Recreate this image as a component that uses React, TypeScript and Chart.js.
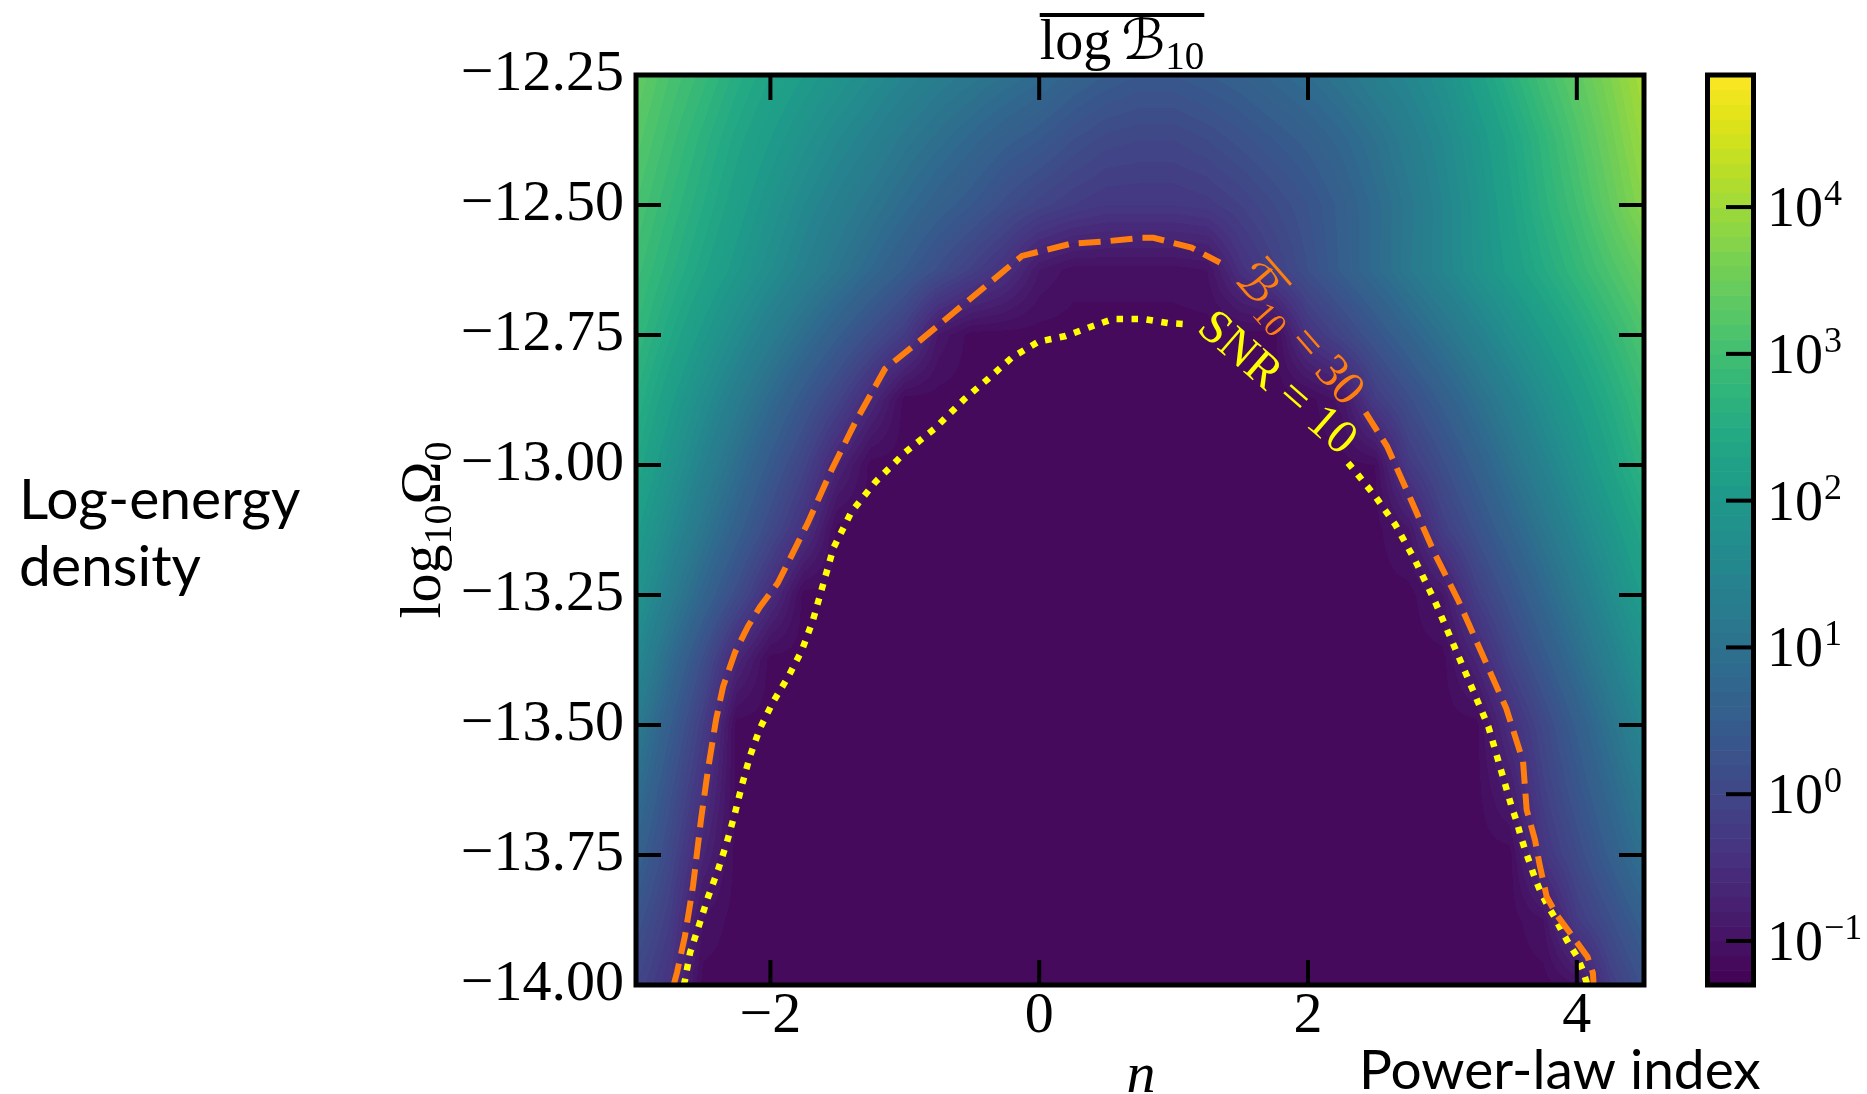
import React, { useEffect, useRef } from 'react';
import { Chart, registerables } from 'chart.js';

Chart.register(...registerables);

// ---------------- data ----------------
// grid of the colour field: power-law index n (columns) and log10 Omega_0 (rows)
const N_GRID = [-3, -2.75, -2.5, -2.25, -2, -1.75, -1.5, -1.25, -1, -0.75, -0.5, -0.25, 0, 0.25, 0.5, 0.75, 1, 1.25, 1.5, 1.75, 2, 2.25, 2.5, 2.75, 3, 3.25, 3.5, 3.75, 4, 4.25, 4.5];
const OMEGA_GRID = [-12.25, -12.375, -12.5, -12.625, -12.75, -12.875, -13, -13.125, -13.25, -13.375, -13.5, -13.625, -13.75, -13.875, -14];
const I = -1.15; // value read inside the detection region
// log10 of mean Bayes factor (row = OMEGA_GRID, column = N_GRID)
const LOG10_B = [
  [3.40, 3.10, 2.85, 2.55, 2.30, 2.10, 1.90, 1.70, 1.50, 1.30, 1.15, 1.00, 0.85, 0.65, 0.50, 0.40, 0.40, 0.50, 0.60, 0.75, 0.90, 1.10, 1.35, 1.55, 1.80, 2.20, 2.60, 3.00, 3.35, 3.70, 4.10],
  [3.25, 2.95, 2.65, 2.35, 2.10, 1.85, 1.60, 1.40, 1.15, 0.95, 0.75, 0.55, 0.40, 0.20, 0.05, 0.00, 0.00, 0.10, 0.25, 0.40, 0.55, 0.75, 1.00, 1.30, 1.60, 1.95, 2.35, 2.75, 3.15, 3.55, 3.95],
  [3.10, 2.80, 2.50, 2.20, 1.90, 1.60, 1.35, 1.10, 0.85, 0.60, 0.40, 0.15, -0.05, -0.20, -0.30, -0.30, -0.30, -0.25, -0.10, 0.10, 0.30, 0.55, 0.85, 1.15, 1.50, 1.85, 2.25, 2.65, 3.00, 3.40, 3.80],
  [2.95, 2.64, 2.33, 2.02, 1.71, 1.40, 1.10, 0.79, 0.48, 0.17, -0.14, -0.45, -0.90, -1.05, -1.05, -1.05, -1.05, -1.00, -0.45, -0.13, 0.20, 0.53, 0.85, 1.18, 1.50, 1.83, 2.15, 2.48, 2.80, 3.13, 3.45],
  [2.80, 2.42, 2.04, 1.66, 1.29, 0.91, 0.53, 0.15, -0.22, -0.92, I, I, I, I, I, I, I, I, I, I, -0.38, -0.03, 0.33, 0.68, 1.03, 1.38, 1.74, 2.09, 2.44, 2.79, 3.15],
  [2.60, 2.16, 1.71, 1.27, 0.83, 0.38, -0.06, -0.59, I, I, I, I, I, I, I, I, I, I, I, I, I, -0.96, -0.23, 0.16, 0.55, 0.94, 1.33, 1.73, 2.12, 2.51, 2.90],
  [2.40, 1.91, 1.42, 0.93, 0.43, -0.06, -0.68, I, I, I, I, I, I, I, I, I, I, I, I, I, I, I, -1.10, -0.26, 0.16, 0.58, 1.01, 1.43, 1.85, 2.28, 2.70],
  [2.15, 1.63, 1.11, 0.59, 0.07, -0.45, I, I, I, I, I, I, I, I, I, I, I, I, I, I, I, I, I, -0.92, -0.19, 0.24, 0.67, 1.10, 1.54, 1.97, 2.40],
  [1.90, 1.31, 0.71, 0.12, -0.50, I, I, I, I, I, I, I, I, I, I, I, I, I, I, I, I, I, I, I, -0.92, -0.17, 0.29, 0.76, 1.22, 1.69, 2.15],
  [1.60, 0.88, 0.16, -0.64, I, I, I, I, I, I, I, I, I, I, I, I, I, I, I, I, I, I, I, I, I, -0.68, -0.07, 0.41, 0.89, 1.37, 1.85],
  [1.25, 0.53, -0.19, I, I, I, I, I, I, I, I, I, I, I, I, I, I, I, I, I, I, I, I, I, I, I, -0.50, 0.03, 0.54, 1.04, 1.55],
  [0.95, 0.26, -0.42, I, I, I, I, I, I, I, I, I, I, I, I, I, I, I, I, I, I, I, I, I, I, I, -0.82, -0.14, 0.33, 0.79, 1.25],
  [0.65, 0.04, -0.68, I, I, I, I, I, I, I, I, I, I, I, I, I, I, I, I, I, I, I, I, I, I, I, I, -0.36, 0.09, 0.55, 1.00],
  [0.30, -0.19, -1.01, I, I, I, I, I, I, I, I, I, I, I, I, I, I, I, I, I, I, I, I, I, I, I, I, -1.01, -0.23, 0.18, 0.60],
  [0.00, -0.40, I, I, I, I, I, I, I, I, I, I, I, I, I, I, I, I, I, I, I, I, I, I, I, I, I, I, -1.01, -0.21, 0.25],
];

// contour  B10 = 30 (orange dashed), split where the inline label sits
const B30_BEFORE_LABEL = [
  [-2.72, -14.0], [-2.694, -13.975], [-2.636, -13.906], [-2.576, -13.81], [-2.516, -13.681], [-2.464, -13.585],
  [-2.404, -13.489], [-2.352, -13.426], [-2.263, -13.36], [-2.166, -13.31], [-2.078, -13.273], [-1.945, -13.227],
  [-1.856, -13.181], [-1.723, -13.112], [-1.546, -13.01], [-1.369, -12.918], [-1.147, -12.815], [-0.926, -12.769],
  [-0.66, -12.712], [-0.394, -12.655], [-0.128, -12.598], [0.227, -12.575], [0.493, -12.57], [0.759, -12.563],
  [0.85, -12.563], [1.133, -12.582], [1.345, -12.611],
];
const B30_AFTER_LABEL = [
  [2.428, -12.899], [2.588, -12.964], [2.766, -13.067], [2.944, -13.171], [3.121, -13.262], [3.298, -13.365],
  [3.475, -13.468], [3.6, -13.57], [3.627, -13.663], [3.689, -13.721], [3.726, -13.772], [3.776, -13.83],
  [3.85, -13.865], [3.987, -13.913], [4.08, -13.946], [4.12, -13.977], [4.125, -14.0],
];
// contour SNR = 10 (yellow dotted)
const SNR_BEFORE_LABEL = [
  [-2.645, -14.0], [-2.635, -13.99], [-2.598, -13.938], [-2.531, -13.885], [-2.464, -13.831], [-2.39, -13.779],
  [-2.323, -13.725], [-2.263, -13.669], [-2.211, -13.615], [-2.152, -13.56], [-2.077, -13.506], [-1.981, -13.456],
  [-1.869, -13.408], [-1.765, -13.356], [-1.683, -13.298], [-1.53, -13.159], [-1.397, -13.09], [-1.22, -13.033],
  [-0.999, -12.976], [-0.778, -12.93], [-0.556, -12.873], [-0.379, -12.834], [-0.202, -12.793], [-0.007, -12.763],
  [0.197, -12.752], [0.374, -12.735], [0.551, -12.719], [0.773, -12.719], [0.958, -12.727], [1.07, -12.729],
];
const SNR_AFTER_LABEL = [
  [2.298, -12.996], [2.372, -13.019], [2.5, -13.06], [2.65, -13.115], [2.8, -13.185], [2.944, -13.262],
  [3.077, -13.342], [3.209, -13.422], [3.342, -13.503], [3.515, -13.657], [3.553, -13.686], [3.582, -13.713],
  [3.615, -13.74], [3.652, -13.767], [3.689, -13.795], [3.731, -13.821], [3.781, -13.846], [3.838, -13.871],
  [3.888, -13.896], [3.942, -13.921], [3.999, -13.944], [4.044, -13.971], [4.074, -13.996], [4.078, -14.0],
];

const X_TICKS = [-2, 0, 2, 4];
const Y_TICKS = [-12.25, -12.5, -12.75, -13, -13.25, -13.5, -13.75, -14];
const CB_TICK_EXPONENTS = [-1, 0, 1, 2, 3, 4];
const CB_MIN_EXP = -1.3;
const CB_MAX_EXP = 4.9;
const LEVEL_STEP = 0.1;

// ---------------- style ----------------
const SERIF = "'Liberation Serif', 'DejaVu Serif', 'DejaVu Sans', serif";
const SANS = "Lato, 'Open Sans', sans-serif";
const ORANGE = '#ff7f0e';
const YELLOW = '#ffff00';
const VIRIDIS = ['#440154', '#471365', '#482475', '#463480', '#414487', '#3b528b', '#355f8d', '#2f6c8e', '#2a788e', '#25848e', '#21918c', '#1e9c89', '#22a884', '#2fb47c', '#44bf70', '#5ec962', '#7ad151', '#9bd93c', '#bddf26', '#dfe318', '#fde725'];

function hexToRgb(h: string) {
  return [parseInt(h.slice(1, 3), 16), parseInt(h.slice(3, 5), 16), parseInt(h.slice(5, 7), 16)];
}
const VIR_RGB = VIRIDIS.map(hexToRgb);
function viridis(t: number) {
  const tt = Math.max(0, Math.min(1, t)) * (VIR_RGB.length - 1);
  const i = Math.min(Math.floor(tt), VIR_RGB.length - 2);
  const f = tt - i;
  const a = VIR_RGB[i], b = VIR_RGB[i + 1];
  return [a[0] + (b[0] - a[0]) * f, a[1] + (b[1] - a[1]) * f, a[2] + (b[2] - a[2]) * f];
}
const N_LEVELS = Math.round((CB_MAX_EXP - CB_MIN_EXP) / LEVEL_STEP);
const LEVEL_COLORS = Array.from({ length: N_LEVELS }, (_, k) => viridis((k + 0.5) / N_LEVELS));

function gridPos(grid: number[], v: number) {
  for (let i = 0; i < grid.length - 1; i++) {
    const a = grid[i], b = grid[i + 1];
    const f = (v - a) / (b - a);
    if (f <= 1) return i + Math.max(0, f);
  }
  return grid.length - 1;
}

const minus = (v: number) => (v < 0 ? '\u2212' : '');

type Piece = { text: string; font: string; dy?: number; dx?: number };
function drawPieces(ctx: CanvasRenderingContext2D, pieces: Piece[], x: number, y: number, align: 'left' | 'center') {
  let total = 0;
  const widths = pieces.map((p) => {
    ctx.font = p.font;
    const w = ctx.measureText(p.text).width + (p.dx || 0);
    total += w;
    return w;
  });
  let cx = align === 'center' ? x - total / 2 : x;
  const start = cx;
  ctx.textAlign = 'left';
  ctx.textBaseline = 'alphabetic';
  const spans: [number, number][] = [];
  pieces.forEach((p, i) => {
    ctx.font = p.font;
    const px = cx + (p.dx || 0);
    ctx.fillText(p.text, px, y + (p.dy || 0));
    spans.push([px, cx + widths[i]]);
    cx += widths[i];
  });
  return { start, end: cx, spans };
}

function line(ctx: CanvasRenderingContext2D, x1: number, y1: number, x2: number, y2: number) {
  ctx.beginPath();
  ctx.moveTo(x1, y1);
  ctx.lineTo(x2, y2);
  ctx.stroke();
}

const heatmapPlugin = {
  id: 'heatmap',
  beforeDatasetsDraw(chart: any) {
    const { ctx, chartArea: a, scales } = chart;
    const xs = scales.x, ys = scales.y;
    const left = Math.round(a.left), top = Math.round(a.top);
    const w = Math.round(a.right) - left, h = Math.round(a.bottom) - top;
    const img = ctx.createImageData(w, h);
    const colPos = new Float64Array(w);
    for (let i = 0; i < w; i++) colPos[i] = gridPos(N_GRID, xs.getValueForPixel(left + i + 0.5));
    const negRows = OMEGA_GRID.map((v) => -v);
    const rowPos = new Float64Array(h);
    for (let j = 0; j < h; j++) rowPos[j] = gridPos(negRows, -ys.getValueForPixel(top + j + 0.5));
    const R = OMEGA_GRID.length, C = N_GRID.length;
    const d = img.data;
    for (let j = 0; j < h; j++) {
      const r0 = Math.min(Math.floor(rowPos[j]), R - 2);
      const ty = rowPos[j] - r0;
      const g0 = LOG10_B[r0], g1 = LOG10_B[r0 + 1];
      for (let i = 0; i < w; i++) {
        const c0 = Math.min(Math.floor(colPos[i]), C - 2);
        const tx = colPos[i] - c0;
        const v = (1 - ty) * ((1 - tx) * g0[c0] + tx * g0[c0 + 1]) + ty * ((1 - tx) * g1[c0] + tx * g1[c0 + 1]);
        let lvl = Math.floor((v - CB_MIN_EXP) / LEVEL_STEP);
        lvl = Math.max(0, Math.min(N_LEVELS - 1, lvl));
        const c = LEVEL_COLORS[lvl];
        const k = (j * w + i) * 4;
        d[k] = c[0]; d[k + 1] = c[1]; d[k + 2] = c[2]; d[k + 3] = 255;
      }
    }
    ctx.putImageData(img, left, top);
  },
};

const decorPlugin = {
  id: 'decor',
  afterDraw(chart: any) {
    const { ctx, chartArea: a, scales } = chart;
    const xs = scales.x, ys = scales.y, cb = scales.cb;
    ctx.save();

    // inline contour labels
    ctx.save();
    ctx.translate(1300, 334);
    ctx.rotate((49 * Math.PI) / 180);
    ctx.fillStyle = ORANGE;
    const ol = drawPieces(ctx, [
      { text: '\u212C', font: `48px ${SERIF}` },
      { text: '10', font: `33px ${SERIF}`, dy: 9 },
      { text: ' = 30', font: `48px ${SERIF}` },
    ], 0, 15, 'center');
    ctx.fillRect(ol.spans[0][0] + 4, 15 - 42, ol.spans[0][1] - ol.spans[0][0], 3);
    ctx.restore();

    ctx.save();
    ctx.translate(1278, 382);
    ctx.rotate((41 * Math.PI) / 180);
    ctx.fillStyle = YELLOW;
    drawPieces(ctx, [{ text: 'SNR = 10', font: `48px ${SERIF}` }], 0, 15, 'center');
    ctx.restore();

    // frame
    ctx.strokeStyle = '#000';
    ctx.lineWidth = 5;
    ctx.strokeRect(a.left, a.top, a.right - a.left, a.bottom - a.top);
    // inward ticks
    ctx.lineWidth = 4;
    ctx.lineCap = 'butt';
    X_TICKS.forEach((v) => {
      const px = xs.getPixelForValue(v);
      line(ctx, px, a.bottom, px, a.bottom - 25);
      line(ctx, px, a.top, px, a.top + 25);
    });
    Y_TICKS.forEach((v) => {
      const py = ys.getPixelForValue(v);
      line(ctx, a.left, py, a.left + 25, py);
      line(ctx, a.right, py, a.right - 25, py);
    });

    // colour bar
    const cbL = 1710, cbR = 1751;
    for (let k = 0; k < N_LEVELS; k++) {
      const lo = CB_MIN_EXP + k * LEVEL_STEP;
      const y0 = cb.getPixelForValue(Math.pow(10, lo));
      const y1 = cb.getPixelForValue(Math.pow(10, lo + LEVEL_STEP));
      const c = LEVEL_COLORS[k];
      ctx.fillStyle = `rgb(${c[0]},${c[1]},${c[2]})`;
      ctx.fillRect(cbL, y1, cbR - cbL, y0 - y1 + 0.6);
    }
    ctx.lineWidth = 5;
    ctx.strokeRect(cbL - 2.5, a.top, cbR - cbL + 5, a.bottom - a.top);
    ctx.lineWidth = 4;
    ctx.fillStyle = '#000';
    CB_TICK_EXPONENTS.forEach((e) => {
      const py = cb.getPixelForValue(Math.pow(10, e));
      line(ctx, cbR, py, cbR - 25, py);
      drawPieces(ctx, [
        { text: '10', font: `56px ${SERIF}` },
        { text: minus(e) + Math.abs(e), font: `36px ${SERIF}`, dy: -21, dx: 1 },
      ], 1767, py + 19, 'left');
    });

    // title  (overlined log B10)
    ctx.fillStyle = '#000';
    const t = drawPieces(ctx, [
      { text: 'log', font: `56px ${SERIF}` },
      { text: '\u212C', font: `56px ${SERIF}`, dx: 10 },
      { text: '10', font: `39px ${SERIF}`, dy: 10 },
    ], 1122, 59, 'center');
    ctx.fillRect(t.start, 13, t.end - t.start, 4);

    // y-axis title
    ctx.save();
    ctx.translate(440, 530);
    ctx.rotate(-Math.PI / 2);
    drawPieces(ctx, [
      { text: 'log', font: `58px ${SERIF}` },
      { text: '10', font: `40px ${SERIF}`, dy: 11 },
      { text: '\u03A9', font: `58px ${SERIF}` },
      { text: '0', font: `40px ${SERIF}`, dy: 11 },
    ], 0, 0, 'center');
    ctx.restore();

    // x-axis title
    drawPieces(ctx, [{ text: 'n', font: `italic 58px ${SERIF}` }], 1141, 1092, 'center');

    // annotations
    drawPieces(ctx, [{ text: 'Log-energy', font: `57px ${SANS}` }], 19, 519, 'left');
    drawPieces(ctx, [{ text: 'density', font: `57px ${SANS}` }], 19, 586, 'left');
    drawPieces(ctx, [{ text: 'Power-law index', font: `55px ${SANS}` }], 1359, 1089, 'left');

    ctx.restore();
  },
};

const toXY = (pts: number[][]) => pts.map(([n, o]) => ({ x: n, y: o }));

export default function App() {
  const ref = useRef<HTMLCanvasElement>(null);
  useEffect(() => {
    const canvas = ref.current;
    if (!canvas) return;
    const orange = { showLine: true, borderColor: ORANGE, backgroundColor: ORANGE, borderWidth: 6, borderDash: [22, 10], borderCapStyle: 'butt', pointRadius: 0, fill: false, tension: 0 };
    const yellow = { showLine: true, borderColor: YELLOW, backgroundColor: YELLOW, borderWidth: 6.5, borderDash: [6.5, 8.5], borderCapStyle: 'butt', pointRadius: 0, fill: false, tension: 0 };
    const chart = new Chart(canvas, {
      type: 'scatter',
      data: {
        datasets: [
          { ...orange, label: 'B10 = 30', data: toXY(B30_BEFORE_LABEL) },
          { ...orange, label: 'B10 = 30 (cont.)', data: toXY(B30_AFTER_LABEL) },
          { ...yellow, label: 'SNR = 10', data: toXY(SNR_BEFORE_LABEL) },
          { ...yellow, label: 'SNR = 10 (cont.)', data: toXY(SNR_AFTER_LABEL) },
        ],
      } as any,
      options: {
        animation: false,
        responsive: false,
        devicePixelRatio: 1,
        events: [],
        layout: { padding: { top: 75, left: 0, right: 0, bottom: 0 } },
        plugins: { legend: { display: false }, tooltip: { enabled: false }, title: { display: false } },
        scales: {
          x: {
            type: 'linear', position: 'bottom', min: -3, max: 4.5,
            afterBuildTicks: (s: any) => { s.ticks = X_TICKS.map((value) => ({ value })); },
            afterFit: (s: any) => { s.height = 109; },
            grid: { display: false, drawTicks: false },
            border: { display: false },
            ticks: {
              color: '#000', padding: 3, maxRotation: 0, minRotation: 0, autoSkip: false,
              font: { family: SERIF, size: 58, lineHeight: 1 },
              callback: (v: any) => minus(v) + Math.abs(v),
            },
          },
          y: {
            type: 'linear', position: 'left', min: -14, max: -12.25,
            afterBuildTicks: (s: any) => { s.ticks = Y_TICKS.map((value) => ({ value })); },
            afterFit: (s: any) => { s.width = 636; },
            grid: { display: false, drawTicks: false },
            border: { display: false },
            ticks: {
              color: '#000', padding: 12, autoSkip: false,
              font: { family: SERIF, size: 58, lineHeight: 1 },
              callback: (v: any) => minus(v) + Math.abs(v).toFixed(2),
            },
          },
          cb: {
            type: 'logarithmic', position: 'right', min: Math.pow(10, CB_MIN_EXP), max: Math.pow(10, CB_MAX_EXP),
            afterFit: (s: any) => { s.width = 223; },
            grid: { display: false, drawTicks: false },
            border: { display: false },
            ticks: { display: false },
          },
        },
      } as any,
      plugins: [heatmapPlugin, decorPlugin],
    });
    return () => chart.destroy();
  }, []);
  return (
    <div style={{ position: 'absolute', left: 0, top: 0, width: 1867, height: 1094, background: '#fff' }}>
      <canvas ref={ref} width={1867} height={1094} style={{ display: 'block', width: 1867, height: 1094 }} />
    </div>
  );
}
